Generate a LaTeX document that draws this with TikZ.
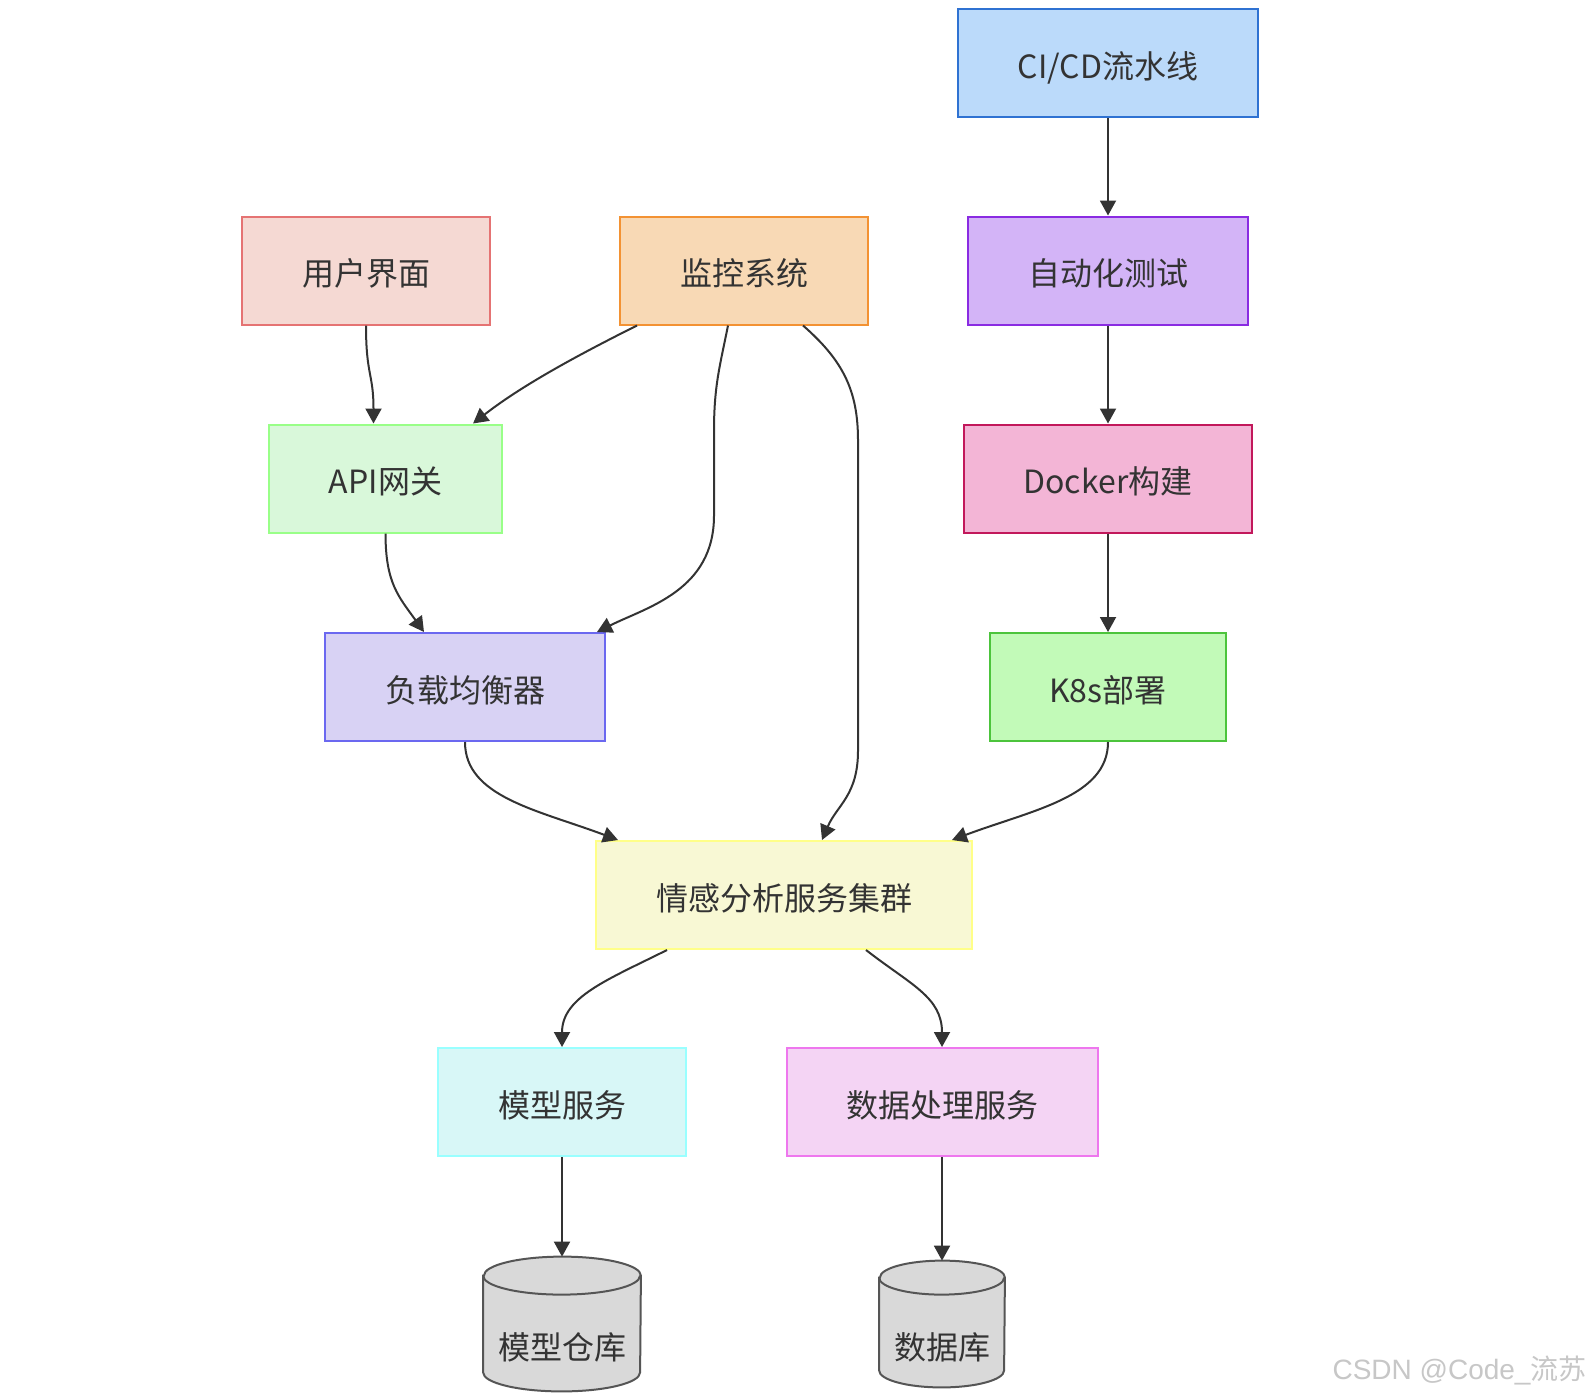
\documentclass[tikz,border=0pt]{standalone}
\usepackage{fontspec}
\newfontfamily\cjk{Noto Sans CJK SC}
\newfontfamily\wmfont{Liberation Sans}
\usetikzlibrary{arrows.meta,calc}
\definecolor{ink}{HTML}{333333}
\definecolor{ciF}{HTML}{BBDAFA}   \definecolor{ciD}{HTML}{2F72D2}
\definecolor{atF}{HTML}{D3B4F7}   \definecolor{atD}{HTML}{8A2BE2}
\definecolor{dkF}{HTML}{F3B5D6}   \definecolor{dkD}{HTML}{C2185B}
\definecolor{ksF}{HTML}{C2FAB8}   \definecolor{ksD}{HTML}{4CC43C}
\definecolor{uiF}{HTML}{F5D9D3}   \definecolor{uiD}{HTML}{E57373}
\definecolor{moF}{HTML}{F8D9B5}   \definecolor{moD}{HTML}{F39233}
\definecolor{apF}{HTML}{D9F8DA}   \definecolor{apD}{HTML}{99FF88}
\definecolor{lbF}{HTML}{D8D2F4}   \definecolor{lbD}{HTML}{6B68F0}
\definecolor{scF}{HTML}{F8F8D4}   \definecolor{scD}{HTML}{FFFF88}
\definecolor{msF}{HTML}{D8F7F7}   \definecolor{msD}{HTML}{99FFFF}
\definecolor{dpF}{HTML}{F4D4F4}   \definecolor{dpD}{HTML}{EE77EE}
\definecolor{canF}{HTML}{D9D9D9}  \definecolor{canD}{HTML}{555555}
\tikzset{
  >={Triangle[length=7.5pt,width=8pt]},
  box/.style 2 args={draw=#2,fill=#1,line width=1pt,inner sep=0pt,
    minimum height=54pt,text height=15pt,text depth=0pt,
    text=ink,font=\cjk\fontsize{16}{19}\selectfont},
  flow/.style={->,draw=ink,line width=1pt},
  can/.style={draw=canD,fill=canF,line width=1pt},
  hold/.style={inner sep=0pt},
  tag/.style={text=ink,font=\cjk\fontsize{16}{19}\selectfont},
}
\newcommand\drawcan[3]{%
  \draw[can] ([yshift=-#3]#1.north west) -- ([yshift=#3]#1.south west)
    arc[start angle=180,end angle=360,x radius=#2,y radius=#3]
    -- ([yshift=-#3]#1.north east)
    arc[start angle=0,end angle=180,x radius=#2,y radius=#3] -- cycle;
  \draw[can,fill=none] ([yshift=-#3]#1.north west)
    arc[start angle=180,end angle=360,x radius=#2,y radius=#3];}

\begin{document}
\begin{tikzpicture}[x=0.5pt,y=-0.5pt]
  \useasboundingbox[fill=white] (0,0) rectangle (1593,1397);
  % deployment chain
  \node[box={ciF}{ciD},minimum width=150pt] (ci) at (1108,63) {CI/CD流水线};
  \node[box={atF}{atD},minimum width=140pt] (at) at (1108,270.5) {自动化测试};
  \node[box={dkF}{dkD},minimum width=144pt] (dk) at (1108,478.5) {Docker构建};
  \node[box={ksF}{ksD},minimum width=118pt] (k8s) at (1108,687) {K8s部署};
  % service side
  \node[box={uiF}{uiD},minimum width=124pt] (ui) at (366,270.5) {用户界面};
  \node[box={moF}{moD},minimum width=124pt] (mon) at (744,270.5) {监控系统};
  \node[box={apF}{apD},minimum width=116.5pt] (api) at (385.5,478.5) {API网关};
  \node[box={lbF}{lbD},minimum width=140pt] (lb) at (465,687) {负载均衡器};
  \node[box={scF}{scD},minimum width=188pt] (sc) at (784,895) {情感分析服务集群};
  \node[box={msF}{msD},minimum width=124pt] (ms) at (562,1102) {模型服务};
  \node[box={dpF}{dpD},minimum width=155.5pt] (dp) at (942,1102) {数据处理服务};
  % storage
  \node[hold,minimum width=78.5pt,minimum height=67pt] (repo) at (562,1324) {};
  \drawcan{repo}{39.25pt}{9.5pt}
  \node[tag] (repo-t) at ($(repo.center)+(0,23)$) {模型仓库};
  \node[hold,minimum width=62.5pt,minimum height=63pt] (db) at (942,1324) {};
  \drawcan{db}{31.25pt}{8.5pt}
  \node[tag] (db-t) at ($(db.center)+(0,23)$) {数据库};

  \draw[flow] (ci) -- (at);
  \draw[flow] (at) -- (dk);
  \draw[flow] (dk) -- (k8s);
  \draw[flow] (ui.south) .. controls +(0,50) and +(0,-50) .. ([xshift=-6pt]api.north);
  \draw[flow] ([xshift=-53.5pt]mon.south) .. controls +(-70,35) and +(45,-35) .. ([xshift=43.75pt]api.north);
  \draw[flow] ([xshift=-8pt]mon.south) .. controls +(-8,40) and +(0,-45) .. ($(mon.south)+(-30,105)$)
    -- ($(mon.south)+(-30,190)$) .. controls +(0,75) and +(50,-25) .. ([xshift=66pt]lb.north);
  \draw[flow] ([xshift=29.5pt]mon.south) .. controls +(40,35) and +(0,-50) .. ($(mon.south)+(114,115)$)
    -- ($(mon.south)+(114,425)$) .. controls +(0,45) and +(15,-35) .. ([xshift=19pt]sc.north);
  \draw[flow] (api.south) .. controls +(0,50) and +(-25,-35) .. ([xshift=-20.5pt]lb.north);
  \draw[flow] (lb.south) .. controls +(0,55) and +(-80,-30) .. ([xshift=-83pt]sc.north);
  \draw[flow] (k8s.south) .. controls +(0,55) and +(80,-30) .. ([xshift=84pt]sc.north);
  \draw[flow] ([xshift=-58.5pt]sc.south) .. controls +(-60,30) and +(0,-50) .. (ms.north);
  \draw[flow] ([xshift=41pt]sc.south) .. controls +(45,35) and +(0,-50) .. (dp.north);
  \draw[flow] (ms) -- (repo);
  \draw[flow] (dp) -- (db);

  \node[anchor=east,inner sep=0pt,text=black!22,font=\wmfont\fontsize{14}{16}\selectfont] (mark) at (1587,1370) {CSDN @Code\_{\cjk 流苏}};
\end{tikzpicture}
\end{document}
